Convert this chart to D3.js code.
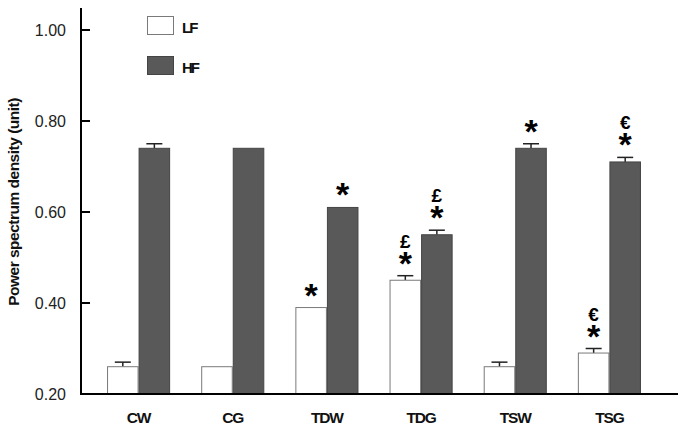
<!DOCTYPE html>
<html><head><meta charset="utf-8">
<script src="https://cdn.jsdelivr.net/npm/d3@7/dist/d3.min.js"></script>
<style>body{margin:0;background:#fff}svg{display:block}</style>
</head><body>
<script>
const categories = ["CW","CG","TDW","TDG","TSW","TSG"];
const series = ["LF","HF"];
const lfValues = [0.26,0.26,0.39,0.45,0.26,0.29];
const hfValues = [0.74,0.74,0.61,0.55,0.74,0.71];
const lfErrors = [0.01,0,0,0.01,0.01,0.01];
const hfErrors = [0.01,0,0,0.01,0.01,0.01];
const lfMarks = [[],[],["*"],["*","£"],[],["*","€"]];
const hfMarks = [[],[],["*"],["*","£"],["*"],["*","€"]];
const yTicks = [0.20,0.40,0.60,0.80,1.00];

const W=685,H=433;
const FONT="Liberation Sans, Arial, sans-serif";
const svg=d3.select("body").append("svg").attr("width",W).attr("height",H);
const y=d3.scaleLinear().domain([0.2,1.0]).range([394,30]);
const x=d3.scaleBand().domain(categories).range([91.5,656.5]).paddingInner(0.33).paddingOuter(0.165);
const xs=d3.scaleBand().domain(series).range([0,x.bandwidth()]);
const fills={LF:"#ffffff",HF:"#595959"};
const strokes={LF:"#7a7a7a",HF:"#444444"};
const vals={LF:lfValues,HF:hfValues}, errs={LF:lfErrors,HF:hfErrors}, marks={LF:lfMarks,HF:hfMarks};

series.forEach(s=>{
  categories.forEach((c,i)=>{
    const x0=x(c)+xs(s), w=xs.bandwidth(), v=vals[s][i], e=errs[s][i];
    const cx=x0+w/2;
    if(e>0){
      svg.append("line").attr("x1",cx).attr("x2",cx).attr("y1",y(v)).attr("y2",y(v+e)).attr("stroke","#222").attr("stroke-width",1.5);
      svg.append("line").attr("x1",cx-8).attr("x2",cx+8).attr("y1",y(v+e)).attr("y2",y(v+e)).attr("stroke","#222").attr("stroke-width",1.5);
    }
    svg.append("rect").attr("x",x0+0.5).attr("y",y(v)).attr("width",w-1).attr("height",y(0.2)-y(v))
      .attr("fill",fills[s]).attr("stroke",strokes[s]).attr("stroke-width",1);
    const top=y(v+e);
    marks[s][i].forEach(m=>{
      if(m==="*"){
        svg.append("text").attr("x",cx).attr("y",top-1).attr("text-anchor","middle")
          .attr("font-family",FONT).attr("font-weight","bold").attr("font-size",34)
          .attr("fill","#000").text("*");
      } else {
        svg.append("text").attr("x",cx).attr("y",top-28).attr("text-anchor","middle")
          .attr("font-family",FONT).attr("font-weight","bold").attr("font-size",19)
          .attr("fill","#000").text(m);
      }
    });
  });
});

// axes
svg.append("line").attr("x1",81).attr("x2",81).attr("y1",8).attr("y2",395).attr("stroke","#000").attr("stroke-width",2);
svg.append("line").attr("x1",80).attr("x2",678).attr("y1",394).attr("y2",394).attr("stroke","#000").attr("stroke-width",2);
yTicks.forEach(t=>{
  svg.append("line").attr("x1",81).attr("x2",90).attr("y1",y(t)).attr("y2",y(t)).attr("stroke","#000").attr("stroke-width",2);
  svg.append("text").attr("x",66).attr("y",y(t)+6).attr("text-anchor","end")
    .attr("font-family",FONT).attr("font-size",16).attr("fill","#222").text(t.toFixed(2));
});
categories.forEach(c=>{
  svg.append("text").attr("x",x(c)+x.bandwidth()/2).attr("y",423).attr("text-anchor","middle")
    .attr("font-family",FONT).attr("font-weight","bold").attr("font-size",15.5)
    .attr("letter-spacing","-1.2").attr("fill","#111").text(c);
});
svg.append("text").attr("transform","translate(19,202) rotate(-90)").attr("text-anchor","middle")
  .attr("font-family",FONT).attr("font-weight","bold").attr("font-size",15.5)
  .attr("letter-spacing","-0.5").attr("fill","#111").text("Power spectrum density (unit)");

// legend
series.forEach((s,i)=>{
  const ly=16+i*40;
  svg.append("rect").attr("x",147.5).attr("y",ly+0.5).attr("width",26).attr("height",18)
    .attr("fill",fills[s]).attr("stroke",strokes[s]).attr("stroke-width",1);
  svg.append("text").attr("x",182).attr("y",ly+17).attr("font-family",FONT)
    .attr("font-weight","bold").attr("font-size",15).attr("letter-spacing","-2").attr("fill","#111").text(s);
});
</script>
</body></html>
